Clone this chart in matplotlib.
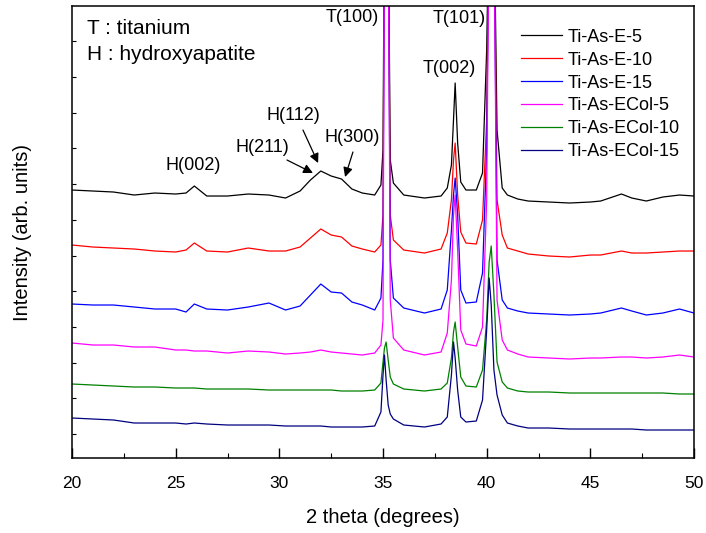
import matplotlib
matplotlib.use("Agg")
import matplotlib.pyplot as plt
import matplotlib.ticker as mticker
import numpy as np

plt.rcParams['font.family'] = ['Liberation Sans', 'DejaVu Sans']

two_theta = [20.0, 21.0, 22.0, 23.0, 24.0, 25.0, 25.5, 25.9, 26.5, 27.5,
             28.5, 29.5, 30.3, 31.0, 31.5, 32.0, 32.5, 33.0, 33.5, 34.0,
             34.6, 34.9, 35.0, 35.07, 35.15, 35.25, 35.35, 35.5, 36.0, 37.0,
             37.8, 38.1, 38.3, 38.4, 38.48, 38.6, 38.75, 39.0, 39.5, 39.8,
             40.0, 40.12, 40.22, 40.35, 40.5, 40.75, 41.0, 41.5, 42.0, 43.0,
             44.0, 45.0, 45.5, 46.5, 47.0, 47.7, 48.5, 49.3, 50.0]

# stacked intensities (arb. units, offsets included)
ti_as_e_5 = [268, 267, 266, 263, 265, 264, 265, 272, 262, 262,
             264, 263, 260, 267, 278, 287, 282, 279, 269, 265,
             263, 273, 308, 558, 1058, 558, 298, 275, 263, 260,
             262, 270, 293, 338, 375, 315, 276, 268, 268, 285,
             408, 558, 1058, 558, 328, 270, 263, 259, 257, 256,
             255, 256, 257, 264, 260, 257, 261, 263, 262]
ti_as_e_10 = [213, 211, 210, 209, 207, 206, 208, 215, 207, 206,
              210, 207, 207, 211, 220, 229, 223, 221, 212, 209,
              206, 213, 243, 558, 1058, 558, 243, 218, 208, 205,
              209, 225, 258, 298, 315, 263, 226, 215, 214, 238,
              338, 558, 1058, 558, 258, 223, 210, 207, 204, 202,
              201, 203, 203, 207, 205, 205, 206, 207, 207]
ti_as_e_15 = [154, 153, 153, 151, 149, 149, 146, 154, 149, 148,
              151, 155, 148, 152, 163, 174, 166, 165, 156, 153,
              148, 160, 198, 558, 1058, 558, 198, 160, 150, 145,
              149, 168, 228, 263, 280, 243, 168, 155, 156, 185,
              308, 558, 1058, 558, 198, 158, 150, 147, 145, 144,
              143, 144, 145, 150, 147, 143, 145, 149, 145]
ti_as_ecol_5 = [115, 113, 113, 111, 111, 108, 108, 107, 107, 105,
                107, 106, 104, 105, 106, 108, 106, 105, 104, 103,
                105, 113, 138, 558, 1058, 558, 158, 120, 108, 103,
                106, 125, 178, 243, 263, 208, 128, 114, 112, 131,
                258, 558, 1058, 558, 158, 118, 108, 104, 101, 100,
                99, 100, 100, 101, 101, 100, 101, 103, 101]
ti_as_ecol_10 = [74, 73, 72, 71, 71, 70, 70, 70, 69, 69,
                 69, 68, 68, 68, 68, 68, 68, 67, 67, 67,
                 68, 75, 96, 110, 116, 98, 81, 74, 69, 67,
                 69, 75, 100, 126, 136, 111, 81, 72, 71, 88,
                 138, 196, 212, 163, 96, 76, 70, 67, 66, 66,
                 65, 65, 65, 65, 65, 65, 65, 64, 64]
ti_as_ecol_15 = [40, 39, 38, 35, 35, 35, 34, 35, 34, 33,
                 33, 33, 32, 32, 32, 32, 31, 31, 31, 31,
                 32, 46, 83, 103, 78, 53, 44, 39, 33, 31,
                 34, 41, 83, 116, 100, 68, 41, 36, 37, 58,
                 128, 180, 153, 88, 63, 43, 35, 32, 30, 30,
                 29, 29, 29, 29, 29, 28, 28, 28, 28]

SERIES = [
    ('Ti-As-E-5', ti_as_e_5, 'black'),
    ('Ti-As-E-10', ti_as_e_10, '#ff0000'),
    ('Ti-As-E-15', ti_as_e_15, '#0000ff'),
    ('Ti-As-ECol-5', ti_as_ecol_5, '#ff00ff'),
    ('Ti-As-ECol-10', ti_as_ecol_10, '#008000'),
    ('Ti-As-ECol-15', ti_as_ecol_15, '#000080'),
]

# peak labels: (text, x, y)
peak_labels = [
    ('T(100)', 33.5, 441),
    ('T(101)', 38.67, 440),
    ('T(002)', 38.18, 390),
    ('H(002)', 25.84, 293),
]
# labels with arrows: (text, text xy, arrow start xy, arrow tip xy)
arrow_labels = [
    ('H(211)', (29.16, 311), (30.37, 298), (31.62, 285)),
    ('H(112)', (30.66, 343), (31.14, 328), (31.87, 295)),
    ('H(300)', (33.5, 321), (33.55, 306), (33.17, 281)),
]


def main():
    fig = plt.figure(figsize=(7.06, 5.33), dpi=100)
    ax = fig.add_axes([0.102, 0.1407, 0.881, 0.848])

    for name, vals, color in SERIES:
        ax.plot(two_theta, vals, color=color, linewidth=0.9, label=name)

    ax.set_xlim(20, 50)
    ax.set_ylim(0, 452)
    ax.xaxis.set_major_locator(mticker.MultipleLocator(5))
    ax.xaxis.set_minor_locator(mticker.MultipleLocator(2.5))
    ax.set_yticks(np.arange(24, 452, 35.7))
    ax.set_yticklabels([])
    ax.tick_params(axis='x', which='major', direction='in', length=7,
                   width=1.0, labelsize=12.5, pad=13)
    ax.tick_params(axis='x', which='minor', direction='in', length=3.5, width=0.8)
    ax.tick_params(axis='y', which='major', direction='in', length=3, width=0.8)
    for s in ax.spines.values():
        s.set_linewidth(1.1)

    ax.set_xlabel('2 theta (degrees)', fontsize=14.5, labelpad=12)
    ax.set_ylabel('Intensity (arb. units)', fontsize=14.5, labelpad=25)

    ax.text(20.72, 430, 'T : titanium', fontsize=15, ha='left', va='center')
    ax.text(20.72, 404, 'H : hydroxyapatite', fontsize=15, ha='left', va='center')

    for txt, x, y in peak_labels:
        ax.text(x, y, txt, fontsize=13, ha='center', va='center')
    for txt, (tx, ty), start, tip in arrow_labels:
        ax.text(tx, ty, txt, fontsize=13, ha='center', va='center')
        ax.annotate('', xy=tip, xytext=start,
                    arrowprops=dict(arrowstyle='-|>', color='black',
                                    lw=0.9, mutation_scale=14,
                                    shrinkA=0, shrinkB=0))

    ax.legend(loc='upper left', bbox_to_anchor=(0.71, 0.966), frameon=False,
              fontsize=13, handlelength=2.3, handletextpad=0.3,
              labelspacing=0.33, borderaxespad=0)

    fig.savefig('out.png', dpi=100)


if __name__ == '__main__':
    main()
